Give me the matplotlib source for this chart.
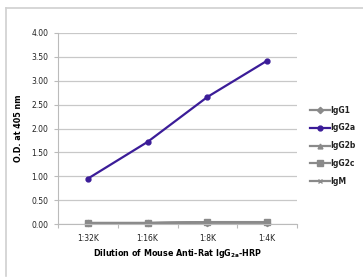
import matplotlib
matplotlib.use("Agg")
import matplotlib.pyplot as plt
from matplotlib.lines import Line2D

categories = ["1:32K", "1:16K", "1:8K", "1:4K"]
series_names = ["IgG1", "IgG2a", "IgG2b", "IgG2c", "IgM"]
igg1 = [0.02, 0.02, 0.03, 0.03]
igg2a = [0.95, 1.72, 2.66, 3.42]
igg2b = [0.02, 0.02, 0.04, 0.04]
igg2c = [0.02, 0.02, 0.04, 0.04]
igm = [0.02, 0.02, 0.03, 0.03]
yticks = [0.0, 0.5, 1.0, 1.5, 2.0, 2.5, 3.0, 3.5, 4.0]

W, H = 363, 277
fig = plt.figure(figsize=(W / 100, H / 100), dpi=100)
fig.patch.set_facecolor("white")

# partial outer frame (top and left)
fig.add_artist(Line2D([6 / W, 1], [1 - 8 / H, 1 - 8 / H], color="#d0d0d0", lw=1.2))
fig.add_artist(Line2D([6 / W, 6 / W], [1 - 8 / H, 0.005], color="#d0d0d0", lw=1.2))

ax = fig.add_axes([58 / W, (H - 224) / H, (297 - 58) / W, (224 - 33) / H])
x = list(range(len(categories)))
gray = "#8a8a8a"
purple = "#3b1c98"
styles = [
    (igg1, gray, "D", 3.2),
    (igg2a, purple, "o", 3.5),
    (igg2b, gray, "^", 3.5),
    (igg2c, gray, "s", 4.5),
    (igm, gray, "x", 3.5),
]
handles = []
for name, (vals, col, mk, ms) in zip(series_names, styles):
    h, = ax.plot(x, vals, color=col, marker=mk, ms=ms, lw=1.6, label=name,
                 clip_on=False, zorder=3 if col == purple else 2)
    handles.append(h)

ax.set_xlim(-0.5, 3.5)
ax.set_ylim(0, 4)
ax.set_yticks(yticks)
ax.set_yticklabels([f"{v:.2f}" for v in yticks], fontsize=5.5, color="#222222")
ax.set_xticks(x)
ax.set_xticklabels(categories, fontsize=5.5, color="#222222")
ax.set_xticks([-0.5, 0.5, 1.5, 2.5, 3.5], minor=True)
ax.tick_params(axis="x", which="major", length=0, pad=7)
ax.tick_params(axis="x", which="minor", length=3, width=0.8, color="#bbbbbb")
ax.tick_params(axis="y", length=3, width=0.8, color="#bbbbbb", pad=4)
ax.grid(axis="y", color="#c8c8c8", lw=0.9)
ax.set_axisbelow(True)
for s in ["top", "right"]:
    ax.spines[s].set_visible(False)
ax.spines["left"].set_color("#bbbbbb")
ax.spines["bottom"].set_color("#bbbbbb")

ax.set_ylabel("O.D. at 405 nm", fontsize=5.8, fontweight="bold", labelpad=6)
ax.set_xlabel(r"Dilution of Mouse Anti-Rat IgG$_{\mathbf{2a}}$-HRP", fontsize=5.8,
              fontweight="bold", labelpad=3)

leg = ax.legend(handles=handles, loc="center left", bbox_to_anchor=(1.054, 0.41),
                frameon=False, fontsize=5.5, handlelength=2.6, handletextpad=0.1,
                labelspacing=1.15, borderaxespad=0, borderpad=0)
for t in leg.get_texts():
    t.set_fontweight("bold")
    t.set_color("#222222")

fig.savefig("out.png", dpi=100, facecolor="white")
